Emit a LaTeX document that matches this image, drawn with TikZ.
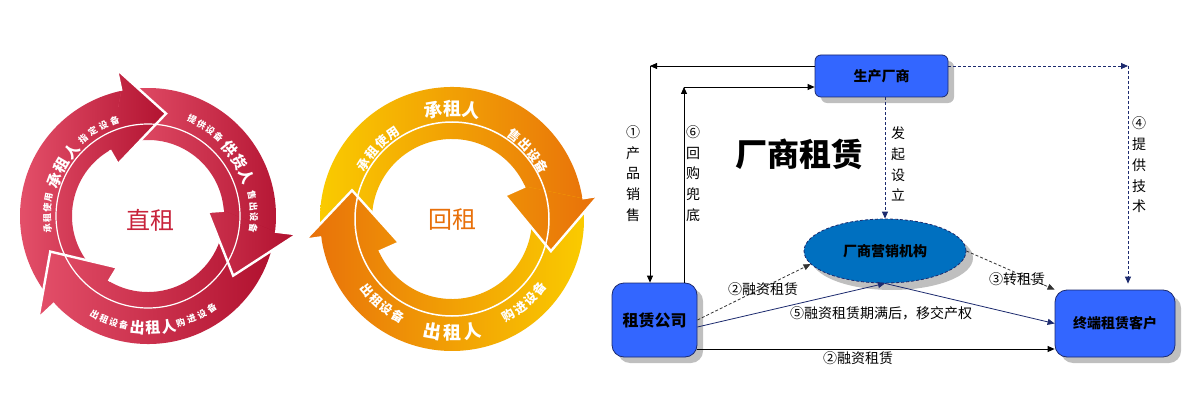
\documentclass[tikz,border=0pt]{standalone}
\usepackage{fontspec}
\setmainfont{Noto Sans CJK SC}
\usetikzlibrary{arrows.meta,shapes.geometric,shadows,calc}
\definecolor{rlight}{HTML}{E4506A}
\definecolor{rdark}{HTML}{B0102E}
\definecolor{rtext}{HTML}{C8243C}
\definecolor{oyel}{HTML}{FACB00}
\definecolor{oora}{HTML}{E8700A}
\definecolor{boxblue}{HTML}{3366FF}
\definecolor{ellblue}{HTML}{0070C0}
\definecolor{navy}{HTML}{1C2A6E}

% body of a ring arrow: #1 tail outer angle, #2 tail inner angle, #3 head outer angle, #4 head inner angle, #5 tip angle, #6 #7 x-range of gradient, #8 gradient
\newcommand\ringbody[8]{%
 \begin{scope}
  \clip (#1:\Rout) arc[start angle=#1,end angle=#3,radius=\Rout] -- (#3:\Rho) -- (#5:\Rmid) -- (#4:\Rhi) -- (#4:\Rin) arc[start angle=#4,end angle=#2,radius=\Rin] -- cycle;
  \shade[#8] (#6,-200) rectangle (#7,200);
 \end{scope}}
% head redrawn on top: #1 outer angle, #2 inner angle, #3 tip, #4 #5 x-range, #6 gradient
\newcommand\ringhead[6]{%
 \begin{scope}
  \clip (#1:\Rout) -- (#1:\Rho) -- (#3:\Rmid) -- (#2:\Rhi) -- (#2:\Rin) -- cycle;
  \shade[#6] (#4,-200) rectangle (#5,200);
 \end{scope}
 \draw[white,line width=2.4pt,line join=miter] (#1:\Rout) -- (#1:\Rho) -- (#3:\Rmid) -- (#2:\Rhi) -- (#2:\Rin);}
% characters along an arc: #1 name, #2 radius, #3 start angle, #4 step, #5 rotation offset, #6 size, #7 chars
\newcommand\arctext[7]{%
 \foreach \ch [count=\i from 0] in {#7}{%
  \pgfmathsetmacro\myang{#3+\i*(#4)}%
  \node[ctxt,font=\bfseries\fontsize{#6}{#6}\selectfont,rotate=\myang+#5] (#1\i) at (\myang:#2) {\ch};}}

\begin{document}
\begin{tikzpicture}[x=1pt,y=-1pt,
  ctxt/.style={text=white,inner sep=0pt},
  bluebox/.style={draw=navy,fill=boxblue,line width=0.8pt,inner sep=0pt,
     drop shadow={shadow xshift=6pt,shadow yshift=-6pt},
     font=\bfseries\fontsize{14}{14}\selectfont},
  lbl/.style={inner sep=0pt,font=\fontsize{14}{20.7}\selectfont,align=center},
  tip/.style={-{Triangle[length=7pt,width=6pt]}},
  solidblk/.style={draw=black,line width=0.8pt,tip},
  dashnavy/.style={draw=navy,line width=0.8pt,dash pattern=on 3pt off 2pt,tip},
  dashblk/.style={draw=black!80,line width=0.8pt,dash pattern=on 3pt off 2pt,tip},
  solidnavy/.style={draw=navy,line width=0.8pt,tip}]
\useasboundingbox (0,0) rectangle (1200,420);
\fill[white] (0,0) rectangle (1200,420);

% ---------- red ring (直租) ----------
\begin{scope}[shift={(148,216)},yscale=-1]
 \def\Rout{128}\def\Rin{76}\def\Rmid{104}\def\Rho{150}\def\Rhi{60}
 \ringbody{223}{239}{102}{120}{80}{-130}{25}{left color=rlight,right color=rdark}
 \ringbody{102}{120}{-7}{4}{-35}{-30}{150}{left color=rlight,right color=rdark}
 \ringbody{353}{364}{223}{239}{200}{-115}{128}{left color=rlight,right color=rdark}
 \ringhead{102}{120}{80}{-130}{25}{left color=rlight,right color=rdark}
 \ringhead{-7}{4}{-35}{-30}{150}{left color=rlight,right color=rdark}
 \ringhead{223}{239}{200}{-115}{128}{left color=rlight,right color=rdark}
 \draw[white,line width=1.2pt] (0,0) circle[radius=92];
 \arctext{ra}{101}{187}{-5.9}{-90}{9}{承,租,使,用}
 \arctext{rb}{100}{159.5}{-10}{-90}{15}{承,租,人}
 \arctext{rc}{101}{130}{-6.9}{-90}{9}{指,定,设,备}
 \arctext{rd}{106}{65.4}{-5.7}{-90}{9}{提,供,设,备}
 \arctext{re}{106}{39.3}{-8.7}{-90}{15}{供,货,人}
 \arctext{rf}{106}{11.4}{-6.1}{-90}{9}{售,出,设,备}
 \arctext{rg}{112}{241.6}{5.3}{90}{9}{出,租,设,备}
 \arctext{rh}{112}{264.5}{8}{90}{15}{出,租,人}
 \arctext{ri}{112}{287}{5.9}{90}{9}{购,进,设,备}
\end{scope}
\node[text=rtext,font=\fontsize{24}{24}\selectfont,inner sep=0pt] (zz) at (150,220) {直租};

% ---------- orange ring (回租) ----------
\begin{scope}[shift={(452,219)},yscale=-1]
 \def\Rout{132}\def\Rin{80}\def\Rmid{104}\def\Rho{148}\def\Rhi{58}
 \ringbody{188}{204}{9}{24}{-18}{-132}{146}{left color=oyel,right color=oora}
 \ringbody{369}{384}{188}{204}{164}{-146}{132}{left color=oora,right color=oyel}
 \ringhead{9}{24}{-18}{-132}{146}{left color=oyel,right color=oora}
 \ringhead{188}{204}{164}{-146}{132}{left color=oora,right color=oyel}
 \draw[white,line width=1.5pt] (0,0) circle[radius=97];
 \arctext{oa}{104}{148.2}{-7.9}{-90}{12.5}{承,租,使,用}
 \arctext{ob}{110}{100}{-10}{-90}{18}{承,租,人}
 \arctext{oc}{104}{53.1}{-7.7}{-90}{12.5}{售,出,设,备}
 \arctext{od}{111}{220}{7}{90}{12.5}{出,租,设,备}
 \arctext{oe}{114}{260}{10}{90}{18}{出,租,人}
 \arctext{of}{112}{300.4}{7.1}{90}{12.5}{购,进,设,备}
\end{scope}
\node[text=oora,font=\fontsize{24}{24}\selectfont,inner sep=0pt] (hz) at (452,220) {回租};

% ---------- 厂商租赁 ----------
\node[bluebox,rounded corners=6pt,minimum width=133pt,minimum height=42pt] (mf) at (881.5,76) {生产厂商};
\node[bluebox,rounded corners=12pt,minimum width=85pt,minimum height=74pt,font=\bfseries\fontsize{16}{16}\selectfont] (zl) at (654.5,320) {租赁公司};
\node[bluebox,rounded corners=12pt,minimum width=120pt,minimum height=67pt] (zd) at (1115,323.5) {终端租赁客户};
\node[ellipse,draw=navy,fill=ellblue,line width=0.8pt,dash pattern=on 3pt off 2pt,minimum width=162pt,minimum height=64pt,inner sep=0pt,
  drop shadow={shadow xshift=7pt,shadow yshift=-7pt},font=\bfseries\fontsize{14}{14}\selectfont] (el) at (885,251) {厂商营销机构};

\node[inner sep=0pt,font=\bfseries\fontsize{32}{32}\selectfont] (title) at (799,154) {厂商租赁};

\coordinate (c1) at (650,66);
\coordinate (c6) at (684,87);
\coordinate (c4) at (1128,66);
\draw[solidblk] (mf.west |- c1) -- (c1);
\draw[solidblk] (c1) -- (zl.north -| c1);
\draw[solidblk] (zl.north -| c6) -- (c6);
\draw[solidblk] (c6) -- (mf.west |- c6);
\draw[dashnavy] (mf.south -| el.north) -- (el.north);
\draw[dashnavy] (mf.east |- c4) -- (c4);
\draw[dashnavy,shorten >=6pt] (c4) -- (zd.north -| c4);
\draw[dashblk] (zl.east) -- (el.190);
\draw[solidnavy] ($(zl.east)+(0,7)$) -- (el.south);
\draw[solidnavy] (el.south) -- (zd.west);
\draw[dashblk] (el.east) -- (zd.north west);
\draw[solidblk] ($(zl.east)+(0,29)$) -- ($(zd.west)+(0,25.5)$);

\node[lbl] (l1) at (633,173.5) {①\\产\\品\\销\\售};
\node[lbl] (l6) at (693,173.5) {⑥\\回\\购\\兜\\底};
\node[lbl] (l3) at (898,164) {发\\起\\设\\立};
\node[lbl] (l4) at (1139,165) {④\\提\\供\\技\\术};
\node[lbl] (lb2) at (763,289) {②融资租赁};
\node[lbl] (lb5) at (881,313) {⑤融资租赁期满后，移交产权};
\node[lbl] (lb3) at (1017,279) {③转租赁};
\node[lbl] (lb2b) at (858,358) {②融资租赁};
\end{tikzpicture}
\end{document}
